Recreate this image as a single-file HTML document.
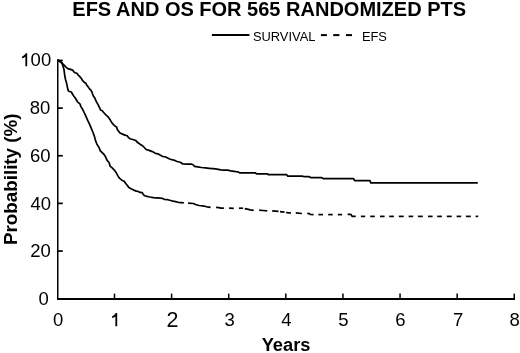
<!DOCTYPE html>
<html><head><meta charset="utf-8"><style>
html,body{margin:0;padding:0;background:#fff;}
svg{display:block;}
text{font-family:"Liberation Sans",sans-serif;fill:#000;}
</style></head><body>
<svg style="will-change:transform" width="520" height="353" viewBox="0 0 520 353">
<rect width="520" height="353" fill="#fff"/>
<text x="72.3" y="16.4" font-size="20" font-weight="bold">EFS AND OS FOR 565 RANDOMIZED PTS</text>
<g stroke="#000" stroke-width="2" fill="none">
<line x1="211.9" y1="35.1" x2="249.4" y2="35.1"/>
<line x1="320.9" y1="35.1" x2="326.9" y2="35.1"/>
<line x1="333.2" y1="35.1" x2="339.4" y2="35.1"/>
<line x1="346" y1="35.1" x2="352" y2="35.1"/>
</g>
<text x="252.9" y="40.8" font-size="12.9">SURVIVAL</text>
<text x="361.9" y="40.9" font-size="12.9">EFS</text>
<g stroke="#000" stroke-width="2" fill="none" stroke-linecap="butt">
<line x1="57.75" y1="59.2" x2="57.75" y2="300.0" stroke-width="1.5"/>
<line x1="57.0" y1="299.0" x2="515" y2="299.0"/>
<line x1="114.50" y1="293.6" x2="114.50" y2="299.0" stroke-width="1.5"/><line x1="171.61" y1="293.6" x2="171.61" y2="299.0" stroke-width="1.5"/><line x1="228.72" y1="293.6" x2="228.72" y2="299.0" stroke-width="1.5"/><line x1="285.83" y1="293.6" x2="285.83" y2="299.0" stroke-width="1.5"/><line x1="342.94" y1="293.6" x2="342.94" y2="299.0" stroke-width="1.5"/><line x1="400.05" y1="293.6" x2="400.05" y2="299.0" stroke-width="1.5"/><line x1="457.16" y1="293.6" x2="457.16" y2="299.0" stroke-width="1.5"/><line x1="514.27" y1="293.6" x2="514.27" y2="299.0" stroke-width="1.5"/><line x1="57.75" y1="251.05" x2="62.8" y2="251.05" stroke-width="1.7"/><line x1="57.75" y1="203.40" x2="62.8" y2="203.40" stroke-width="1.7"/><line x1="57.75" y1="155.75" x2="62.8" y2="155.75" stroke-width="1.7"/><line x1="57.75" y1="108.10" x2="62.8" y2="108.10" stroke-width="1.7"/><line x1="57.75" y1="60.45" x2="62.8" y2="60.45" stroke-width="1.7"/>
</g>
<g font-size="18.5"><text x="48.9" y="305.30" text-anchor="end">0</text><text x="50.8" y="257.40" text-anchor="end">20</text><text x="51.0" y="209.70" text-anchor="end">40</text><text x="50.6" y="162.00" text-anchor="end">60</text><text x="50.4" y="114.45" text-anchor="end">80</text><text x="51.2" y="66.35" text-anchor="end">00</text><path d="M27.20,53.35 L27.20,66.35 L25.40,66.35 L25.40,56.75 Q23.90,57.95 22.00,58.35 L22.00,56.65 Q24.50,55.75 25.80,53.35 Z"/><text x="58.19" y="326.3" text-anchor="middle">0</text><path d="M117.20,313.10 L117.20,326.30 L115.40,326.30 L115.40,316.50 Q113.90,317.70 112.00,318.10 L112.00,316.40 Q114.50,315.50 115.80,313.10 Z"/><text x="172.46" y="326.6" text-anchor="middle" font-size="21.5">2</text><text x="229.67" y="326.3" text-anchor="middle">3</text><text x="286.28" y="326.3" text-anchor="middle">4</text><text x="343.39" y="326.3" text-anchor="middle">5</text><text x="400.45" y="326.3" text-anchor="middle">6</text><text x="458.06" y="326.3" text-anchor="middle">7</text><text x="514.57" y="326.3" text-anchor="middle">8</text></g>
<text x="261.7" y="351.0" font-size="18.3" font-weight="bold">Years</text>
<text transform="translate(16.8,245.0) rotate(-90) scale(1.01,1)" font-size="18.6" font-weight="bold">Probability (%)</text>
<g stroke="#000" stroke-width="1.7" fill="none" stroke-linejoin="round">
<polyline points="58.0,60.0 62.5,63.5 64.6,65.6 66.0,67.2 67.8,68.6 70.5,69.4 72.6,70.1 73.9,71.9 75.1,72.8 76.9,73.3 78.2,75.1 79.6,76.4 81.2,78.2 82.7,80.7 84.3,82.3 85.9,83.2 86.8,85.3 88.4,87.1 89.5,88.9 90.9,90.2 92.0,92.1 92.6,94.0 93.3,95.9 94.8,98.1 96.5,101.9 98.2,104.9 99.9,108.3 100.5,110.0 102.2,110.7 103.9,112.7 106.1,115.2 108.1,116.8 109.8,119.2 111.1,121.6 112.8,123.9 114.9,126.0 116.6,127.0 117.3,129.4 119.0,131.8 119.7,132.8 122.0,133.9 124.9,135.1 127.2,135.7 128.4,137.4 130.1,138.8 133.6,139.7 135.9,140.6 137.6,142.6 139.9,144.0 140.3,144.6 142.6,145.8 144.3,147.5 146.1,149.5 149.0,150.4 152.4,151.6 155.3,153.3 158.2,153.9 160.5,155.3 162.8,156.5 165.7,157.0 167.1,157.7 170.2,159.2 174.8,160.4 177.1,161.5 180.2,162.3 182.5,163.8 187.1,164.1 191.7,164.2 192.7,164.5 194.6,166.4 197.7,166.8 201.5,167.5 205.4,167.9 209.2,168.3 213.1,168.7 216.9,169.1 220.8,169.8 223.8,170.2 227.7,170.2 230.6,170.8 236.0,171.6 238.2,171.8 239.6,172.9 255.5,172.9 256.3,173.8 267.3,173.8 268.5,174.7 286.6,174.7 287.8,176.1 302.3,176.1 304.3,176.7 309.1,176.7 310.7,177.6 321.5,177.6 323.5,178.7 353.6,178.6 354.6,180.6 369.9,180.6 370.8,182.9 477.8,182.9"/>
<polyline points="58.0,60.0 61.9,62.8 64.0,69.6 64.8,76.0 65.5,79.4 66.5,82.8 67.2,86.2 67.9,89.6 68.6,91.3 71.3,92.0 72.3,93.7 73.4,95.5 75.4,98.2 77.5,101.8 79.9,103.8 80.9,106.6 82.6,109.3 83.9,112.0 85.3,114.9 87.7,120.4 89.4,123.8 91.1,127.9 92.8,132.0 94.2,135.6 95.7,141.1 97.1,144.5 99.1,147.6 100.1,150.6 102.2,152.7 104.2,154.7 105.5,156.7 107.1,160.4 109.1,162.5 110.1,166.2 112.2,167.9 114.5,170.3 116.2,172.7 117.8,175.6 119.4,178.2 121.8,180.2 124.2,181.2 125.5,183.3 127.2,185.3 128.6,187.3 131.0,188.7 133.7,190.1 136.4,191.1 138.3,191.5 140.0,192.4 142.3,192.7 143.2,194.4 144.7,195.8 147.0,196.4 149.8,197.0 153.3,197.6 156.8,197.8 160.2,198.1 162.5,198.4 164.3,199.3 167.8,199.7 171.7,200.8 175.5,201.6 178.3,202.3 183.8,202.9"/>
<polyline points="188.1,203.2 193.3,203.5 196.2,204.7 199.1,205.5 202.5,205.8 206.0,206.5 206.9,206.8 210.6,207.4"/><polyline points="216.1,207.4 219.0,207.7 220.7,208.1 223.9,208.2"/><polyline points="229.1,208.2 233.8,208.3"/><polyline points="238.9,208.2 243.0,208.2"/><polyline points="244.7,208.7 247.3,209.2 250.2,209.8 253.7,210.3"/><polyline points="259.2,210.2 263.0,210.5 267.2,210.8"/><polyline points="272.2,210.8 278.5,211.4"/><polyline points="280.0,211.7 284.5,212.1"/><polyline points="286.0,212.5 290.9,213.1"/><polyline points="295.8,212.8 301.9,213.5"/><polyline points="307.3,213.3 309.3,213.6 310.3,214.4 313.5,214.6"/><polyline points="318.4,214.6 323.0,214.6"/><polyline points="328.2,214.6 332.7,214.6"/><polyline points="337.8,214.6 342.1,214.6"/><polyline points="347.6,214.4 350.9,214.4 352.1,216.3 355.7,216.4"/><polyline points="360.9,216.4 365.2,216.4"/><polyline points="370.2,216.4 374.8,216.4"/><polyline points="380.0,216.4 384.6,216.4"/><polyline points="389.2,216.4 393.9,216.4"/><polyline points="398.8,216.4 403.7,216.4"/><polyline points="408.6,216.4 413.2,216.4"/><polyline points="417.9,216.4 422.8,216.4"/><polyline points="428.0,216.4 432.6,216.4"/><polyline points="437.2,216.4 441.9,216.4"/><polyline points="446.8,216.4 451.7,216.4"/><polyline points="456.6,216.4 461.2,216.4"/><polyline points="465.9,216.4 470.8,216.4"/><polyline points="475.6,216.4 478.2,216.4"/>
</g>
</svg>
</body></html>
